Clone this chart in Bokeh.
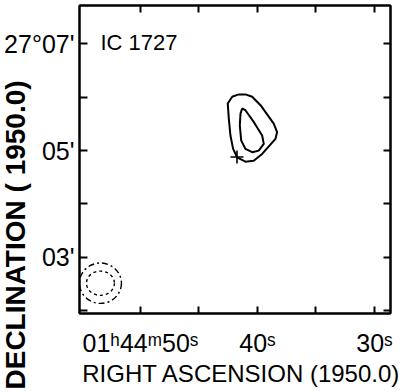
import math
from bokeh.plotting import figure
from bokeh.models import LinearAxis, FixedTicker, Label, Range1d, Title
from bokeh.embed import file_html
from bokeh.resources import INLINE

# --- data (RA seconds past 01h44m, Dec arcmin past +27d00') ---
ra_ticks = [50, 45, 40, 35, 30]
ra_tick_labels = {50: "01ʰ44ᵐ50ˢ", 45: "", 40: "40ˢ", 35: "", 30: "30ˢ"}
dec_ticks = [2, 3, 4, 5, 6, 7]
dec_tick_labels = {2: "", 3: "03'", 4: "", 5: "05'", 6: "", 7: "27°07'"}
x_title = "RIGHT ASCENSION (1950.0)"
y_title = "DECLINATION ( 1950.0)"
source_name = "IC 1727"

outer_ra = [41.60, 42.16, 42.54, 42.45, 42.31, 42.08, 41.74, 41.03, 40.32,
            39.60, 38.46, 38.32, 38.61, 39.74, 40.45, 41.03, 41.60]
outer_dec = [6.053, 6.009, 5.883, 5.598, 5.282, 5.030, 4.873, 4.790, 4.809,
             4.936, 5.220, 5.347, 5.504, 5.850, 6.009, 6.053, 6.053]

inner_ra = [41.31, 41.03, 40.32, 39.60, 39.46, 39.89, 40.45, 41.03, 41.39,
            41.51, 41.45, 41.31]
inner_dec = [5.788, 5.756, 5.536, 5.282, 5.125, 4.998, 4.968, 5.030, 5.188,
             5.472, 5.693, 5.788]

source_ra = [41.75]
source_dec = [4.879]

beam_ra = [53.42]
beam_dec = [2.511]
beam_outer_w = [3.59]
beam_outer_h = [0.758]
beam_inner_w = [2.39]
beam_inner_h = [0.455]

FONT = "Liberation Sans"

p = figure(width=400, height=392,
           x_range=Range1d(55.21, 28.63), y_range=Range1d(1.943, 7.72),
           output_backend="svg", toolbar_location=None,
           min_border_left=79, min_border_right=10,
           min_border_top=5, min_border_bottom=79)
p.title.visible = False

p.grid.visible = False
p.outline_line_color = "black"
p.outline_line_width = 2
p.background_fill_color = "white"
p.border_fill_color = "white"

# bottom axis
xa = p.xaxis[0]
xa.ticker = FixedTicker(ticks=ra_ticks)
xa.major_label_overrides = ra_tick_labels
xa.major_label_text_font = FONT
xa.major_label_text_font_size = "25px"
xa.major_label_text_color = "black"
xa.major_label_standoff = 15
xa.major_tick_in = 7
xa.major_tick_out = 0
xa.major_tick_line_width = 2
xa.minor_tick_line_color = None
xa.axis_line_width = 2
xa.axis_label = "\u00a0\u00a0" + x_title
xa.axis_label_text_font = FONT
xa.axis_label_text_font_size = "24px"
xa.axis_label_text_font_style = "normal"
xa.axis_label_text_color = "black"
xa.axis_label_standoff = 0

# left axis
ya = p.yaxis[0]
ya.ticker = FixedTicker(ticks=dec_ticks)
ya.major_label_overrides = dec_tick_labels
ya.major_label_text_font = FONT
ya.major_label_text_font_size = "25px"
ya.major_label_text_color = "black"
ya.major_label_standoff = 5
ya.major_tick_in = 8
ya.major_tick_out = 0
ya.major_tick_line_width = 2
ya.minor_tick_line_color = None
ya.axis_line_width = 2

# declination title, set in the left border over the tick-label column
p.add_layout(Title(text=y_title, align="left", vertical_align="bottom",
                   offset=-76, standoff=-59, text_font=FONT,
                   text_font_size="28px", text_font_style="bold",
                   text_color="black"), "left")

# top and right axes: ticks only
for loc, tk in (("above", ra_ticks), ("right", dec_ticks)):
    ax = LinearAxis(ticker=FixedTicker(ticks=tk),
                    major_label_text_font_size="0px",
                    major_label_standoff=0,
                    major_tick_in=7, major_tick_out=0,
                    major_tick_line_width=2,
                    minor_tick_line_color=None,
                    axis_line_width=2)
    p.add_layout(ax, loc)

# contours
p.line(outer_ra, outer_dec, line_color="black", line_width=2)
p.line(inner_ra, inner_dec, line_color="black", line_width=2)

# source position
p.scatter(source_ra, source_dec, marker="cross", size=13,
          line_color="black", line_width=1.6)

# beam
p.ellipse(beam_ra, beam_dec, width=beam_outer_w, height=beam_outer_h,
          fill_color=None, line_color="black", line_width=1.4,
          line_dash="6 3 2 3")
p.ellipse(beam_ra, beam_dec, width=beam_inner_w, height=beam_inner_h,
          fill_color=None, line_color="black", line_width=1.4,
          line_dash="3 3")

# object name
p.add_layout(Label(x=53.42, y=7.02, text=source_name, text_font=FONT,
                   text_font_size="22px", text_color="black",
                   text_baseline="alphabetic", text_align="left"))

open("out.html", "w").write(file_html(p, INLINE))
